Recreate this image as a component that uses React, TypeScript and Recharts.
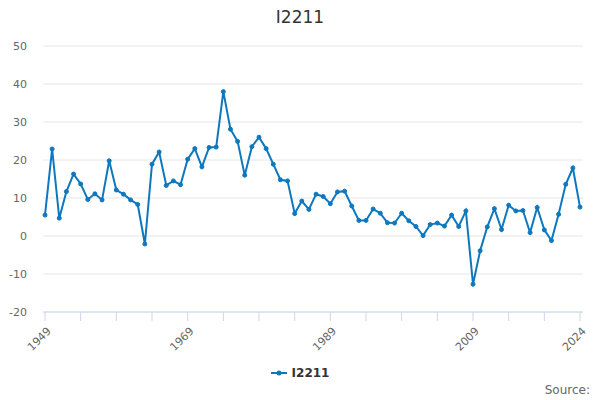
import React from "react";
import {
  LineChart,
  Line,
  XAxis,
  YAxis,
  CartesianGrid,
} from "recharts";

const YEARS: number[] = Array.from({ length: 76 }, (_, i) => 1949 + i);

const VALUES: number[] = [
  5.5, 22.9, 4.7, 11.7, 16.3, 13.7, 9.6, 11.1, 9.5, 19.8,
  12.1, 11.0, 9.5, 8.3, -2.1, 18.9, 22.1, 13.3, 14.5, 13.5,
  20.2, 23.0, 18.2, 23.3, 23.4, 38.0, 28.1, 24.9, 16.0, 23.5,
  26.0, 23.0, 18.9, 14.8, 14.5, 5.9, 9.2, 7.0, 11.0, 10.4,
  8.5, 11.6, 11.8, 7.9, 4.1, 4.1, 7.1, 6.0, 3.5, 3.4,
  6.0, 4.0, 2.5, 0.1, 3.0, 3.4, 2.6, 5.5, 2.5, 6.6,
  -12.7, -3.9, 2.4, 7.2, 1.7, 8.1, 6.6, 6.7, 0.9, 7.5,
  1.6, -1.2, 5.7, 13.6, 17.9, 7.6,
];

const Y_TICKS = [-20, -10, 0, 10, 20, 30, 40, 50];
const X_TICKS = [1949, 1954, 1959, 1964, 1969, 1974, 1979, 1984, 1989, 1994, 1999, 2004, 2009, 2014, 2019, 2024];
const X_LABELS = [1949, 1969, 1989, 2009, 2024];

const SERIES_NAME = "I2211";
const LINE_COLOR = "#0e78be";
const FONT = "'DejaVu Sans', sans-serif";

const data = YEARS.map((year, i) => ({ year, value: VALUES[i] }));

const XTick = (props: any) => {
  const { x, y, payload } = props;
  if (!X_LABELS.includes(payload.value)) return null;
  return (
    <g transform={`translate(${x + 4},${y + 6})`}>
      <text
        transform="rotate(-45)"
        textAnchor="end"
        dy="0.35em"
        fontSize={11}
        fill="#666"
        fontFamily={FONT}
      >
        {payload.value}
      </text>
    </g>
  );
};

const YTick = (props: any) => {
  const { y, payload } = props;
  return (
    <text
      x={27}
      y={y}
      dy="0.35em"
      textAnchor="end"
      fontSize={11}
      fill="#666"
      fontFamily={FONT}
    >
      {payload.value}
    </text>
  );
};

export default function App() {
  return (
    <div
      style={{
        position: "absolute",
        top: 0,
        left: 0,
        width: 600,
        height: 400,
        background: "#fff",
        fontFamily: FONT,
      }}
    >
      <div
        style={{
          position: "absolute",
          top: 7,
          width: 600,
          textAlign: "center",
          fontSize: 17,
          color: "#333",
        }}
      >
        {SERIES_NAME}
      </div>

      <LineChart
        width={600}
        height={400}
        data={data}
        margin={{ top: 46, right: 17, bottom: 0, left: 0 }}
      >
        <CartesianGrid stroke="#e6e6e6" vertical={false} />
        <XAxis
          dataKey="year"
          type="number"
          domain={[1949, 2024]}
          ticks={X_TICKS}
          interval={0}
          padding={{ left: 2, right: 3 }}
          axisLine={{ stroke: "#ccd6eb" }}
          tickLine={{ stroke: "#ccd6eb" }}
          tickSize={9}
          tick={<XTick />}
          height={88}
        />
        <YAxis
          domain={[-20, 50]}
          ticks={Y_TICKS}
          interval={0}
          axisLine={false}
          tickLine={false}
          width={43}
          tick={<YTick />}
        />
        <Line
          type="linear"
          dataKey="value"
          stroke={LINE_COLOR}
          strokeWidth={2}
          dot={{ r: 2, fill: LINE_COLOR, stroke: LINE_COLOR, strokeWidth: 1 }}
          isAnimationActive={false}
        />
      </LineChart>

      <div
        style={{
          position: "absolute",
          top: 366,
          width: 600,
          display: "flex",
          justifyContent: "center",
          alignItems: "center",
          fontSize: 12,
          fontWeight: "bold",
          color: "#333",
        }}
      >
        <svg width={16} height={12} style={{ marginRight: 5 }}>
          <line x1={0} y1={6} x2={16} y2={6} stroke={LINE_COLOR} strokeWidth={2} />
          <circle cx={8} cy={6} r={2.5} fill={LINE_COLOR} />
        </svg>
        <span>{SERIES_NAME}</span>
      </div>

      <div
        style={{
          position: "absolute",
          top: 383,
          right: 10,
          fontSize: 12,
          color: "#666",
        }}
      >
        Source:
      </div>
    </div>
  );
}
